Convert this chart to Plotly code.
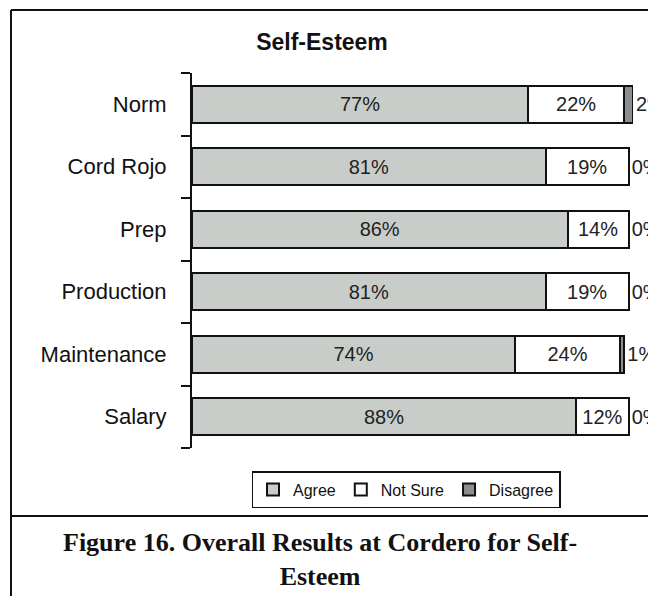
import plotly.graph_objects as go

# Survey groups (top to bottom) and response shares in percent
groups = ["Norm", "Cord Rojo", "Prep", "Production", "Maintenance", "Salary"]
agree = [77, 81, 86, 81, 74, 88]
not_sure = [22, 19, 14, 19, 24, 12]
disagree = [2, 0, 0, 0, 1, 0]

W, H = 648, 596
# plot-area placement in pixels
L, R, T, B = 192, 633, 73, 448


def px_x(p):
    return (p - L) / (R - L)


def px_y(p):
    return 1 - (p - T) / (B - T)


sans = "Arial, Liberation Sans, sans-serif"
serif = "Times New Roman, Liberation Serif, serif"
line_col = "#111111"

series = [
    ("Agree", agree, "#c9cdca", "inside"),
    ("Not Sure", not_sure, "#ffffff", "inside"),
    ("Disagree", disagree, "#8c8f8d", "outside"),
]

fig = go.Figure()
for name, vals, col, pos in series:
    fig.add_trace(go.Bar(
        name=name,
        y=groups,
        x=vals,
        orientation="h",
        marker=dict(color=col, line=dict(color=line_col, width=2)),
        text=[f"{v}%" for v in vals],
        textposition=pos,
        insidetextanchor="middle",
        constraintext="none",
        cliponaxis=False,
        textfont=dict(family=sans, size=20, color="#222222"),
        hoverinfo="skip",
    ))

shapes = []
# chart frame and caption box
frame = dict(type="line", xref="paper", yref="paper",
             line=dict(color=line_col, width=2))
shapes.append(dict(frame, x0=px_x(11), x1=px_x(11), y0=px_y(10), y1=px_y(600)))
shapes.append(dict(frame, x0=px_x(11), x1=px_x(660), y0=px_y(10), y1=px_y(10)))
shapes.append(dict(frame, x0=px_x(11), x1=px_x(660), y0=px_y(516), y1=px_y(516)))

fig.update_layout(
    width=W, height=H,
    margin=dict(l=L, r=W - R, t=T, b=H - B),
    paper_bgcolor="white",
    plot_bgcolor="white",
    barmode="stack",
    bargap=0.41,
    showlegend=True,
    legend=dict(
        orientation="h",
        x=px_x(406), xanchor="center",
        y=px_y(471), yanchor="top",
        bordercolor=line_col, borderwidth=1.5,
        bgcolor="white",
        font=dict(family=sans, size=16, color="#111111"),
        itemwidth=30,
        traceorder="normal",
    ),
    title=dict(
        text="<b>Self-Esteem</b>",
        xref="paper", x=px_x(322), xanchor="center",
        yref="container", y=1 - 42 / H, yanchor="middle",
        font=dict(family=sans, size=23, color="#111111"),
    ),
    xaxis=dict(range=[0, 101], visible=False, fixedrange=True),
    yaxis=dict(
        categoryorder="array",
        categoryarray=groups[::-1],
        showline=True, linecolor=line_col, linewidth=2,
        ticks="outside", ticklen=9, tickwidth=2, tickcolor=line_col,
        tickson="boundaries",
        ticklabelstandoff=19,
        showgrid=False, zeroline=False,
        tickfont=dict(family=sans, size=22, color="#111111"),
        fixedrange=True,
    ),
    shapes=shapes,
    annotations=[dict(
        text="<b>Figure 16. Overall Results at Cordero for Self-<br>Esteem</b>",
        xref="paper", yref="paper",
        x=px_x(320), y=px_y(559),
        xanchor="center", yanchor="middle",
        showarrow=False, align="center",
        font=dict(family=serif, size=26, color="#111111"),
    )],
)

fig.write_html("out.html")
